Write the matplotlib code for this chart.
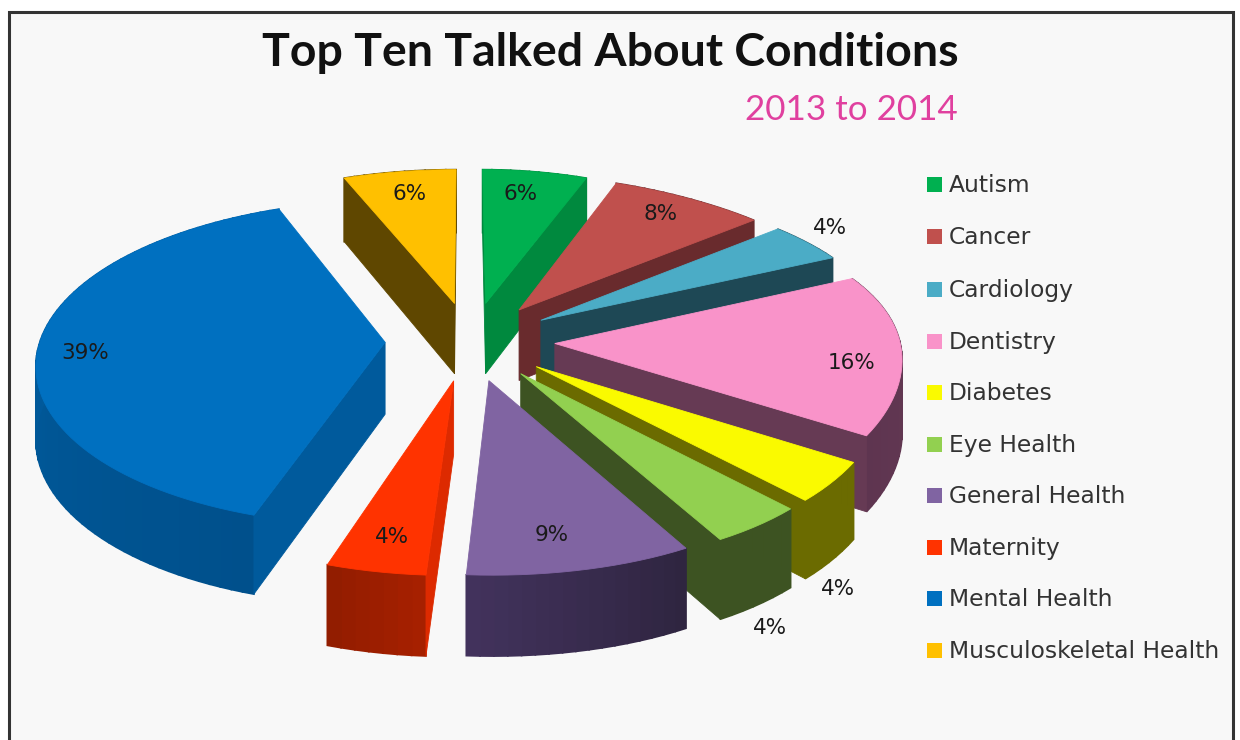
import numpy as np
import matplotlib
matplotlib.use("Agg")
import matplotlib.pyplot as plt
from matplotlib.patches import Polygon, Rectangle

conditions = ["Autism", "Cancer", "Cardiology", "Dentistry", "Diabetes", "Eye Health",
              "General Health", "Maternity", "Mental Health", "Musculoskeletal Health"]
shares = [6, 8, 4, 16, 4, 4, 9, 4, 39, 6]

top_colors = ["#00B050", "#C0504D", "#4BACC6", "#F993C9", "#FAFA00",
              "#92D050", "#8064A2", "#FF3300", "#0070C0", "#FFC000"]
wall_colors = ["#00893E", "#692B2D", "#1E4855", "#663A54", "#6B6B00",
               "#3D5322", "#3C2F55", "#DD2A00", "#005A9C", "#5F4700"]
rim_colors = [("#00893E", "#00893E"), ("#692B2D", "#692B2D"), ("#1E4855", "#1E4855"),
              ("#663A54", "#5E3550"), ("#6B6B00", "#6B6B00"), ("#3D5322", "#3D5322"),
              ("#2F2540", "#43335E"), ("#A62000", "#8F1C00"), ("#00508C", "#0062A8"),
              ("#5F4700", "#5F4700")]

# pie geometry in figure pixels
CX, CY = 470, 341
RX, RY = 345, 160
EXPLODE = 0.246
DEPTH = 72

label_pos = [(521, 194), (661, 214), (830, 228), (852, 363), (838, 589),
             (770, 628), (552, 535), (392, 537), (85, 353), (410, 194)]


def project(u, w):
    # u points right, w points towards the viewer; nearer points are drawn larger
    if u > 0:
        sx = 1 + 0.082 * w + 0.056 * w ** 3
    else:
        sx = 1 + 0.12 * w + 0.015 * w ** 2
    sy = 1 + 0.128 * w + 0.014 * w ** 2
    return np.array([CX + RX * u * sx, CY + RY * w * sy])


def drop(w):
    return np.array([0, DEPTH * (1 + 0.1 * w)])


def blend(c1, c2, t):
    a = np.array(matplotlib.colors.to_rgb(c1))
    b = np.array(matplotlib.colors.to_rgb(c2))
    return a + (b - a) * t


fig = plt.figure(figsize=(12.4, 7.4), dpi=100, facecolor="white")
ax = fig.add_axes([0, 0, 1, 1])
ax.set_xlim(0, 1240)
ax.set_ylim(740, 0)
ax.axis("off")

ax.add_patch(Rectangle((8.5, 11.5), 1224, 760, facecolor="#F8F8F8", edgecolor="#333333", lw=2.2))

# slice angles, clockwise from twelve o'clock
edges = np.radians(np.cumsum([0] + shares) * 3.6)
slices = []
for i in range(len(shares)):
    mid = (edges[i] + edges[i + 1]) / 2
    slices.append((-np.cos(mid), i, mid))

# painter's order, back slices first
for _, i, mid in sorted(slices):
    du = EXPLODE * np.sin(mid)
    dw = -EXPLODE * np.cos(mid)
    t = np.linspace(edges[i], edges[i + 1], max(8, int(shares[i] * 2)))
    u = du + np.sin(t)
    w = dw - np.cos(t)
    rim = [project(a, b) for a, b in zip(u, w)]
    rim_low = [p + drop(b) for p, b in zip(rim, w)]
    apex = project(du, dw)
    apex_low = apex + drop(dw)
    inner = project(du + 0.5 * np.sin(mid), dw - 0.5 * np.cos(mid))

    # outer curved wall, drawn in strips for the shading
    for k in range(len(rim) - 1):
        col = blend(rim_colors[i][0], rim_colors[i][1], k / (len(rim) - 1))
        ax.add_patch(Polygon([rim[k], rim[k + 1], rim_low[k + 1], rim_low[k]],
                             facecolor=col, edgecolor=col, lw=1.2))

    # flat cut walls, only the ones facing the viewer
    for p, p_low in [(rim[0], rim_low[0]), (rim[-1], rim_low[-1])]:
        edge = p - apex
        side_in = edge[0] * (inner - apex)[1] - edge[1] * (inner - apex)[0]
        side_drop = edge[0] * DEPTH
        if side_in * side_drop < 0:
            ax.add_patch(Polygon([apex, p, p_low, apex_low], facecolor=wall_colors[i],
                                 edgecolor=wall_colors[i], lw=0.6))

    ax.add_patch(Polygon([apex] + rim, facecolor=top_colors[i],
                         edgecolor=top_colors[i], lw=0.6))

for i, (x, y) in enumerate(label_pos):
    ax.text(x, y, f"{shares[i]}%", ha="center", va="center", fontsize=15.5,
            family="DejaVu Sans", color="#1a1a1a")

ax.text(610, 53, "Top Ten Talked About Conditions", ha="center", va="center",
        fontsize=33.4, fontweight="bold", family="Lato", color="#111111")
ax.text(958, 110, "2013 to 2014", ha="right", va="center", fontsize=25.2,
        family="Lato", color="#E0409F")

legend_y = [184, 236, 289, 341, 392, 444, 495, 547, 598, 650]
for name, col, y in zip(conditions, top_colors, legend_y):
    ax.add_patch(Rectangle((927, y - 7.5), 15, 15, facecolor=col, edgecolor="none"))
    ax.text(949, y + 1.5, name, ha="left", va="center", fontsize=16.8,
            family="DejaVu Sans", color="#333333")

fig.savefig("out.png", dpi=100)
